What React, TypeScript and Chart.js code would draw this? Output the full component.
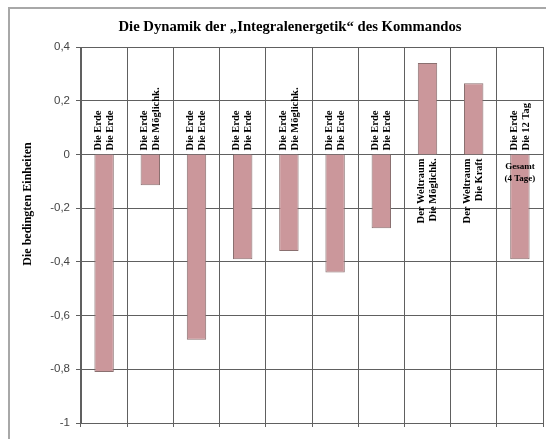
import React, { useEffect, useRef } from "react";
import { Chart, registerables } from "chart.js";

Chart.register(...registerables);

const categories = ["1", "2", "3", "4", "5", "6", "7", "8", "9", "10"];
const values = [-0.81, -0.115, -0.69, -0.39, -0.36, -0.44, -0.275, 0.34, 0.265, -0.39];
const labelLine1 = [
  "Die Erde", "Die Erde", "Die Erde", "Die Erde", "Die Erde",
  "Die Erde", "Die Erde", "Der Weltraum", "Der Weltraum", "Die Erde",
];
const labelLine2 = [
  "Die Erde", "Die Möglichk.", "Die Erde", "Die Erde", "Die Möglichk.",
  "Die Erde", "Die Erde", "Die Möglichk.", "Die Kraft", "Die 12 Tag",
];
const extraLabel = ["", "", "", "", "", "", "", "", "", "Gesamt\n(4 Tage)"];
const chartTitle = "Die Dynamik der \u201EIntegralenergetik\u201C des Kommandos";
const yTitle = "Die bedingten Einheiten";
const yMin = -1;
const yMax = 0.4;
const yStep = 0.2;

const decor = {
  id: "decor",
  beforeDraw(chart: any) {
    const ctx = chart.ctx;
    ctx.save();
    ctx.fillStyle = "#ffffff";
    ctx.fillRect(0, 0, chart.width, chart.height);
    ctx.strokeStyle = "#a8a8a8";
    ctx.lineWidth = 2;
    ctx.strokeRect(9, 8, chart.width + 20, chart.height + 20);
    ctx.restore();
  },
  afterDraw(chart: any) {
    const ctx = chart.ctx;
    const meta = chart.getDatasetMeta(0);
    const y0 = chart.scales.y.getPixelForValue(0);
    ctx.save();
    // title
    ctx.fillStyle = "#000";
    ctx.font = "bold 14.7px 'Liberation Serif'";
    ctx.textAlign = "center";
    ctx.textBaseline = "middle";
    ctx.fillText(chartTitle, 290, 27);
    // y title
    ctx.save();
    ctx.translate(28, 204);
    ctx.rotate(-Math.PI / 2);
    ctx.font = "bold 12px 'Liberation Serif'";
    ctx.fillText(yTitle, 0, 0);
    ctx.restore();
    // data labels
    const labelFont = "bold 10.5px 'Liberation Serif'";
    ctx.font = labelFont;
    meta.data.forEach((bar: any, i: number) => {
      const v = values[i];
      const x = bar.x;
      const lines = [labelLine1[i], labelLine2[i]];
      lines.forEach((t, k) => {
        ctx.save();
        ctx.translate(x - 6 + k * 12, v < 0 ? y0 - 4 : y0 + 4);
        ctx.rotate(-Math.PI / 2);
        ctx.textAlign = v < 0 ? "left" : "right";
        ctx.textBaseline = "middle";
        ctx.fillText(t, 0, 0);
        ctx.restore();
      });
      if (extraLabel[i]) {
        ctx.font = "bold 9px 'Liberation Serif'";
        ctx.textAlign = "center";
        ctx.textBaseline = "middle";
        extraLabel[i].split("\n").forEach((t, k) => {
          ctx.fillText(t, x, y0 + 12 + k * 12);
        });
        ctx.font = labelFont;
      }
    });
    ctx.restore();
  },
};

export default function App() {
  const ref = useRef<HTMLCanvasElement>(null);
  useEffect(() => {
    document.body.style.margin = "0";
    const chart = new Chart(ref.current!, {
      type: "bar",
      data: {
        labels: categories,
        datasets: [
          {
            data: values,
            backgroundColor: "#CB979B",
            borderColor: "#8a7070",
            borderWidth: 1,
            barPercentage: 0.42,
            categoryPercentage: 1,
          },
        ],
      },
      options: {
        responsive: false,
        animation: false,
        layout: { padding: { left: 0, top: 47, right: 3, bottom: 16 } },
        plugins: {
          legend: { display: false },
          tooltip: { enabled: false },
          title: { display: false },
        },
        scales: {
          x: {
            afterFit(scale: any) {
              scale.height = 0;
            },
            ticks: { display: false },
            grid: { color: "#606060", offset: true, tickLength: 4 },
            border: { color: "#606060" },
          },
          y: {
            min: yMin,
            max: yMax,
            afterFit(scale: any) {
              scale.width = 81;
            },
            ticks: {
              stepSize: yStep,
              padding: 6,
              color: "#444",
              font: { family: "'Liberation Sans'", size: 11.5 },
              callback: (v: any) => {
                const r = Math.round(Number(v) * 10) / 10;
                return String(r).replace(".", ",");
              },
            },
            grid: { color: "#606060", tickLength: 5 },
            border: { color: "#606060" },
          },
        },
      },
      plugins: [decor],
    });
    return () => chart.destroy();
  }, []);
  return (
    <div style={{ width: 546, height: 439 }}>
      <canvas ref={ref} width={546} height={439} style={{ display: "block" }} />
    </div>
  );
}
